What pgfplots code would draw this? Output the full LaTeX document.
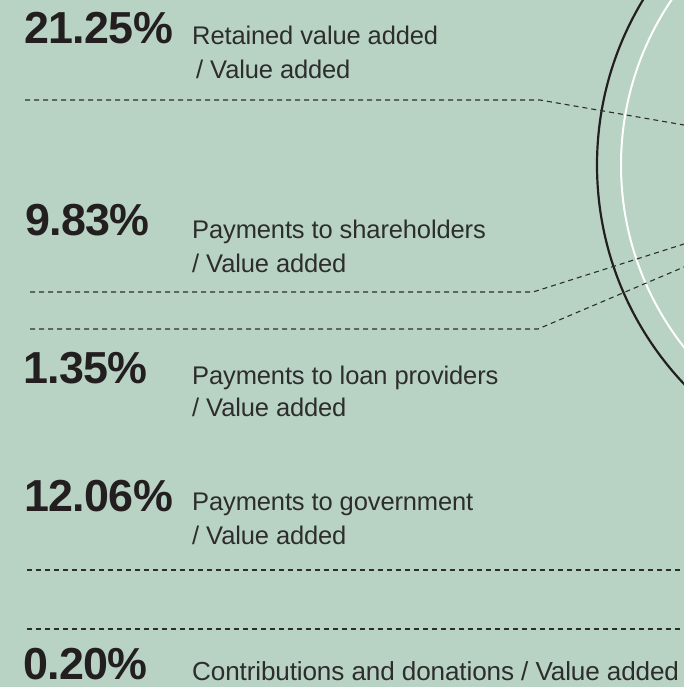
\documentclass[border=0pt]{standalone}
\usepackage{pgfplots}
\pgfplotsset{compat=1.18}
\usepackage{fontspec}
\setmainfont{Liberation Sans}
\definecolor{bg}{RGB}{184,211,195}
\definecolor{ink}{RGB}{35,31,32}
\definecolor{lab}{RGB}{45,45,45}
\newcommand{\pct}[1]{{\fontsize{45}{45}\selectfont\bfseries\addfontfeatures{LetterSpace=-1.5}#1}}
\newcommand{\lbl}[1]{{\fontsize{25.6}{26}\selectfont\addfontfeatures{LetterSpace=-0.5}#1}}
\begin{document}
\begin{tikzpicture}[x=1bp,y=1bp]
\begin{axis}[
  at={(0,0)}, anchor=south west,
  scale only axis, width=684bp, height=687bp,
  xmin=0, xmax=684, ymin=0, ymax=687, y dir=reverse,
  hide axis, clip=true,
  axis background/.style={fill=bg},
]
\fill[bg] (axis cs:0,0) rectangle (axis cs:684,687);
% circles
\draw[white, line width=2bp] (axis cs:916,165) circle [radius=295bp];
\draw[ink, line width=2.2bp] (axis cs:916,165) circle [radius=319bp];
% leader lines
\addplot[lab, line width=1.1bp, dash pattern=on 5bp off 4bp] coordinates {(25,100) (540,100) (684,125)};
\addplot[lab, line width=1.1bp, dash pattern=on 5bp off 4bp] coordinates {(30,292) (533,292) (684,244)};
\addplot[lab, line width=1.1bp, dash pattern=on 5bp off 4bp] coordinates {(30,329) (538,329) (684,267)};
\addplot[lab, line width=1.1bp, dash pattern=on 5bp off 4bp] coordinates {(27,570) (684,570)};
\addplot[lab, line width=1.1bp, dash pattern=on 5bp off 4bp] coordinates {(27,629) (684,629)};
% values
\node[anchor=base west, ink, inner sep=0] at (axis cs:24,44) {\pct{21.25\%}};
\node[anchor=base west, ink, inner sep=0] at (axis cs:25,235) {\pct{9.83\%}};
\node[anchor=base west, ink, inner sep=0] at (axis cs:23,383) {\pct{1.35\%}};
\node[anchor=base west, ink, inner sep=0] at (axis cs:24,511) {\pct{12.06\%}};
\node[anchor=base west, ink, inner sep=0] at (axis cs:23,679) {\pct{0.20\%}};
% labels
\node[anchor=base west, lab, inner sep=0] at (axis cs:192,45) {\lbl{Retained value added}};
\node[anchor=base west, lab, inner sep=0] at (axis cs:196,79) {\lbl{/ Value added}};
\node[anchor=base west, lab, inner sep=0] at (axis cs:192,238) {\lbl{Payments to shareholders}};
\node[anchor=base west, lab, inner sep=0] at (axis cs:192,272) {\lbl{/ Value added}};
\node[anchor=base west, lab, inner sep=0] at (axis cs:192,384) {\lbl{Payments to loan providers}};
\node[anchor=base west, lab, inner sep=0] at (axis cs:192,416) {\lbl{/ Value added}};
\node[anchor=base west, lab, inner sep=0] at (axis cs:192,510) {\lbl{Payments to government}};
\node[anchor=base west, lab, inner sep=0] at (axis cs:192,544) {\lbl{/ Value added}};
\node[anchor=base west, lab, inner sep=0] at (axis cs:192,680) {\fontsize{26.2}{26}\selectfont\addfontfeatures{LetterSpace=-0.5}Contributions and donations / Value added};
\end{axis}
\pgfresetboundingbox
\path[use as bounding box] (0,0) rectangle (684bp,687bp);
\end{tikzpicture}
\end{document}
